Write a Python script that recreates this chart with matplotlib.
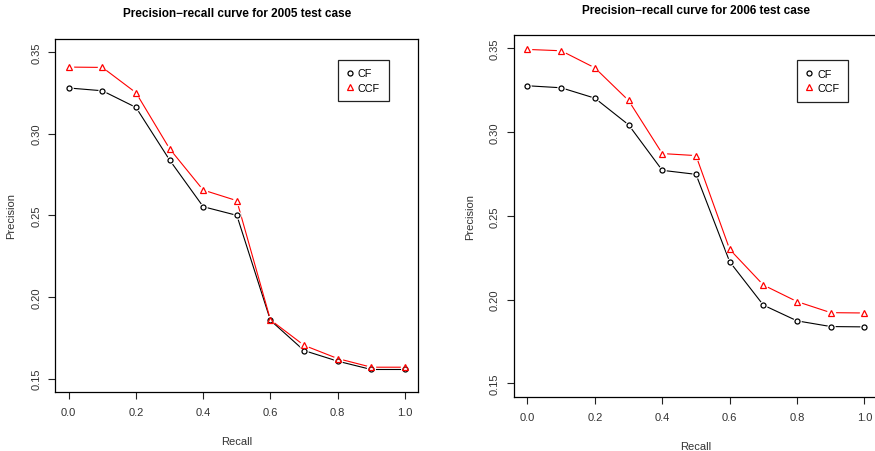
import matplotlib
matplotlib.use("Agg")
import matplotlib.pyplot as plt

plt.rcParams['font.family'] = ['Liberation Sans', 'DejaVu Sans']

# Data
recall = [0.0, 0.1, 0.2, 0.3, 0.4, 0.5, 0.6, 0.7, 0.8, 0.9, 1.0]

cf_2005 = [0.3280, 0.3263, 0.3161, 0.2839, 0.2553, 0.2500, 0.1857, 0.1672, 0.1607, 0.1556, 0.1556]
ccf_2005 = [0.3408, 0.3406, 0.3251, 0.2908, 0.2655, 0.2590, 0.1860, 0.1704, 0.1623, 0.1570, 0.1570]

cf_2006 = [0.3277, 0.3265, 0.3203, 0.3044, 0.2772, 0.2748, 0.2226, 0.1967, 0.1873, 0.1839, 0.1837]
ccf_2006 = [0.3494, 0.3486, 0.3384, 0.3189, 0.2872, 0.2860, 0.2300, 0.2087, 0.1988, 0.1922, 0.1920]

titles = ['Precision\u2212recall curve for 2005 test case',
          'Precision\u2212recall curve for 2006 test case']
xticks = [0.0, 0.2, 0.4, 0.6, 0.8, 1.0]
yticks = [0.15, 0.20, 0.25, 0.30, 0.35]


def draw_series(ax, x, y, color, marker, msize):
    # R type="b": line with gaps around the points
    ax.plot(x, y, color=color, lw=0.8, zorder=2)
    ax.plot(x, y, ls='none', marker='o', ms=msize + 2.5, mfc='white', mec='none', zorder=3)
    ax.plot(x, y, ls='none', marker=marker, ms=msize, mfc='none', mec=color, mew=0.9, zorder=4)


def plot_panel(fig, rect, cf, ccf, title, title_pad, legend_anchor):
    ax = fig.add_axes(rect)
    draw_series(ax, recall, cf, 'black', 'o', 3.6)
    draw_series(ax, recall, ccf, 'red', '^', 4.3)

    ax.set_xlim(-0.04, 1.04)
    ax.set_ylim(0.142, 0.358)
    ax.set_xticks(xticks)
    ax.set_xticklabels([f'{v:.1f}' for v in xticks])
    ax.set_yticks(yticks)
    ax.set_yticklabels([f'{v:.2f}' for v in yticks], rotation=90, va='center')
    ax.tick_params(direction='out', length=5, width=0.8, labelsize=8,
                   color='#222222', labelcolor='#333333')
    ax.tick_params(axis='x', pad=6)
    ax.tick_params(axis='y', pad=5)
    for s in ax.spines.values():
        s.set_linewidth(0.9)

    ax.set_title(title, fontsize=8.5, fontweight='bold', pad=title_pad)
    ax.set_xlabel('Recall', fontsize=8, labelpad=14, color='#333333')
    ax.set_ylabel('Precision', fontsize=8, labelpad=11, color='#333333')

    h1, = ax.plot([], [], ls='none', marker='o', ms=3.6, mfc='none', mec='black', mew=0.9)
    h2, = ax.plot([], [], ls='none', marker='^', ms=4.3, mfc='none', mec='red', mew=0.9)
    leg = ax.legend([h1, h2], ['CF', 'CCF'], loc='upper left', bbox_to_anchor=legend_anchor,
                    borderaxespad=0, fancybox=False, edgecolor='#222222', fontsize=7.8,
                    handlelength=0.6, handletextpad=0.45, borderpad=0.8, labelspacing=0.4,
                    framealpha=1)
    leg.get_frame().set_linewidth(0.9)
    return ax


fig = plt.figure(figsize=(8.75, 4.52), dpi=100)
plot_panel(fig, [0.0632, 0.1312, 0.4149, 0.7803], cf_2005, ccf_2005, titles[0], 16.5, (0.778, 0.941))
plot_panel(fig, [0.5874, 0.1201, 0.4160, 0.8002], cf_2006, ccf_2006, titles[1], 16, (0.778, 0.931))

fig.savefig('out.png', dpi=100)
